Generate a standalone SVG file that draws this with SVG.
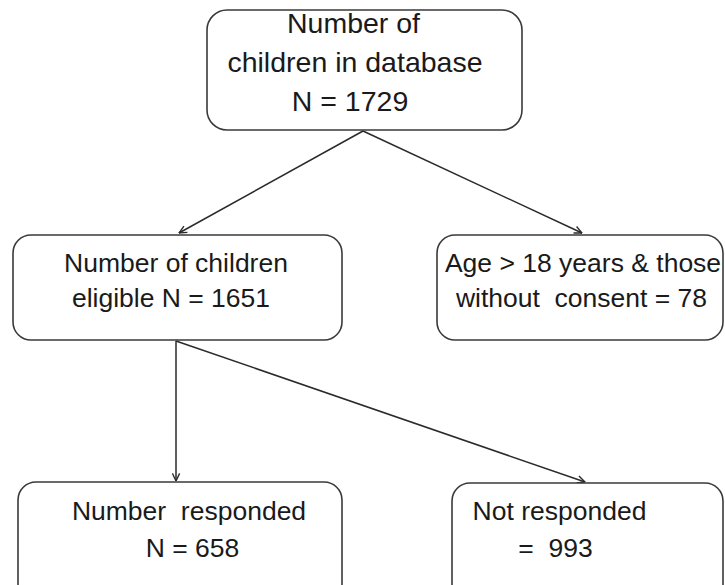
<svg xmlns="http://www.w3.org/2000/svg" width="725" height="585" viewBox="0 0 725 585">
<style>
.box{fill:#fff;stroke:#3a3a3a;stroke-width:1.6}
.t{font-family:"Liberation Sans",Arial,sans-serif;font-size:26.5px;fill:#1a1a1a;text-anchor:middle;white-space:pre}
.big{font-size:28.5px}
.c{stroke:#2a2a2a;stroke-width:1.5;fill:none;marker-end:url(#ah)}
</style>
<defs>
<marker id="ah" viewBox="0 0 10 10" refX="9.5" refY="5" markerWidth="9" markerHeight="9" markerUnits="userSpaceOnUse" orient="auto">
<path d="M1,1 L9.5,5 L1,9" fill="none" stroke="#2a2a2a" stroke-width="1.5"/>
</marker>
</defs>
<rect width="725" height="585" fill="#fff"/>
<g id="connectors">
<line class="c" x1="363" y1="131" x2="179" y2="233"/>
<line class="c" x1="363" y1="131" x2="582" y2="233"/>
<line class="c" x1="176" y1="341" x2="176" y2="481"/>
<line class="c" x1="176" y1="341" x2="585" y2="482"/>
</g>
<g id="n1">
<rect class="box" x="207" y="10" width="315" height="120" rx="20"/>
<text class="t big" x="353.5" y="33">Number of</text>
<text class="t big" x="355" y="72">children in database</text>
<text class="t big" x="350" y="111">N = 1729</text>
</g>
<g id="n2">
<rect class="box" x="13" y="235" width="329" height="105" rx="18"/>
<text class="t" x="176" y="272">Number of children</text>
<text class="t" x="171" y="307">eligible N = 1651</text>
</g>
<g id="n3">
<rect class="box" x="437" y="235" width="286" height="105" rx="18"/>
<text class="t" x="583" y="272">Age &gt; 18 years &amp; those</text>
<text class="t" x="581.5" y="307">without  consent = 78</text>
</g>
<g id="n4">
<rect class="box" x="18" y="482" width="324" height="120" rx="18"/>
<text class="t" x="189" y="520">Number  responded</text>
<text class="t" x="192.5" y="557">N = 658</text>
</g>
<g id="n5">
<rect class="box" x="452" y="483" width="271" height="120" rx="18"/>
<text class="t" x="559.5" y="520">Not responded</text>
<text class="t" x="555.5" y="557">=  993</text>
</g>
</svg>
